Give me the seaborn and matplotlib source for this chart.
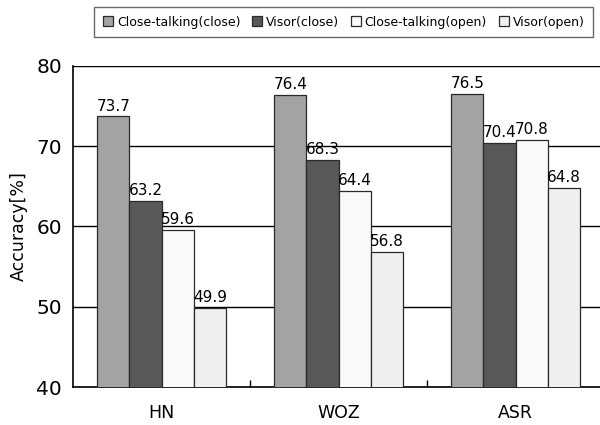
import matplotlib
matplotlib.use("Agg")
import matplotlib.pyplot as plt
import seaborn as sns
import pandas as pd

categories = ["HN", "WOZ", "ASR"]
series = ["Close-talking(close)", "Visor(close)", "Close-talking(open)", "Visor(open)"]
close_talking_close = [73.7, 76.4, 76.5]
visor_close = [63.2, 68.3, 70.4]
close_talking_open = [59.6, 64.4, 70.8]
visor_open = [49.9, 56.8, 64.8]
y_ticks = [40, 50, 60, 70, 80]

values = [close_talking_close, visor_close, close_talking_open, visor_open]
rows = []
for name, vals in zip(series, values):
    for cat, v in zip(categories, vals):
        rows.append({"task": cat, "condition": name, "accuracy": v})
df = pd.DataFrame(rows)

sns.set_theme(style="white")
plt.rcParams["font.family"] = ["DejaVu Sans"]
plt.rcParams["text.color"] = "black"
plt.rcParams["xtick.color"] = "black"
plt.rcParams["ytick.color"] = "black"
plt.rcParams["axes.labelcolor"] = "black"

colors = ["#a3a3a3", "#585858", "#f9f9f9", "#efefef"]

fig = plt.figure(figsize=(6.0, 4.25), dpi=100)
ax = fig.add_axes([0.122, 0.0894, 0.885, 0.7556])

sns.barplot(data=df, x="task", y="accuracy", hue="condition", order=categories,
            hue_order=series, palette=colors, width=0.73, edgecolor="#2a2a2a",
            linewidth=0.9, saturation=1, ax=ax, zorder=3)

for cont in ax.containers:
    ax.bar_label(cont, fmt="%.1f", padding=2, fontsize=11, color="black")

ax.set_ylim(40, 80)
ax.set_xlim(-0.5, 2.5)
ax.set_yticks(y_ticks)
ax.set_yticklabels([str(t) for t in y_ticks], fontsize=14.5)
ax.tick_params(axis="y", length=0, pad=8)
ax.tick_params(axis="x", length=0, pad=12, labelsize=12.5)
ax.set_xticks([0.5, 1.5], minor=True)
ax.tick_params(axis="x", which="minor", bottom=True, direction="in",
               length=5, width=1, color="black")
ax.set_xlabel("")
ax.set_ylabel("Accuracy[%]", fontsize=12.5, labelpad=6)

ax.yaxis.grid(True, color="black", linewidth=1)
ax.set_axisbelow(True)
for side in ["top", "right"]:
    ax.spines[side].set_visible(False)
for side in ["left", "bottom"]:
    ax.spines[side].set_color("black")
    ax.spines[side].set_linewidth(1.2)

handles, labels = ax.get_legend_handles_labels()
ax.legend_.remove()
leg = fig.legend(handles, labels, loc="center", bbox_to_anchor=(0.573, 0.948),
                 ncol=4, frameon=True, fancybox=False, edgecolor="#444444",
                 fontsize=9, handlelength=0.8, handleheight=0.8,
                 handletextpad=0.3, columnspacing=0.95, borderpad=0.7)
leg.get_frame().set_linewidth(1.0)

fig.savefig("out.png", dpi=100)
